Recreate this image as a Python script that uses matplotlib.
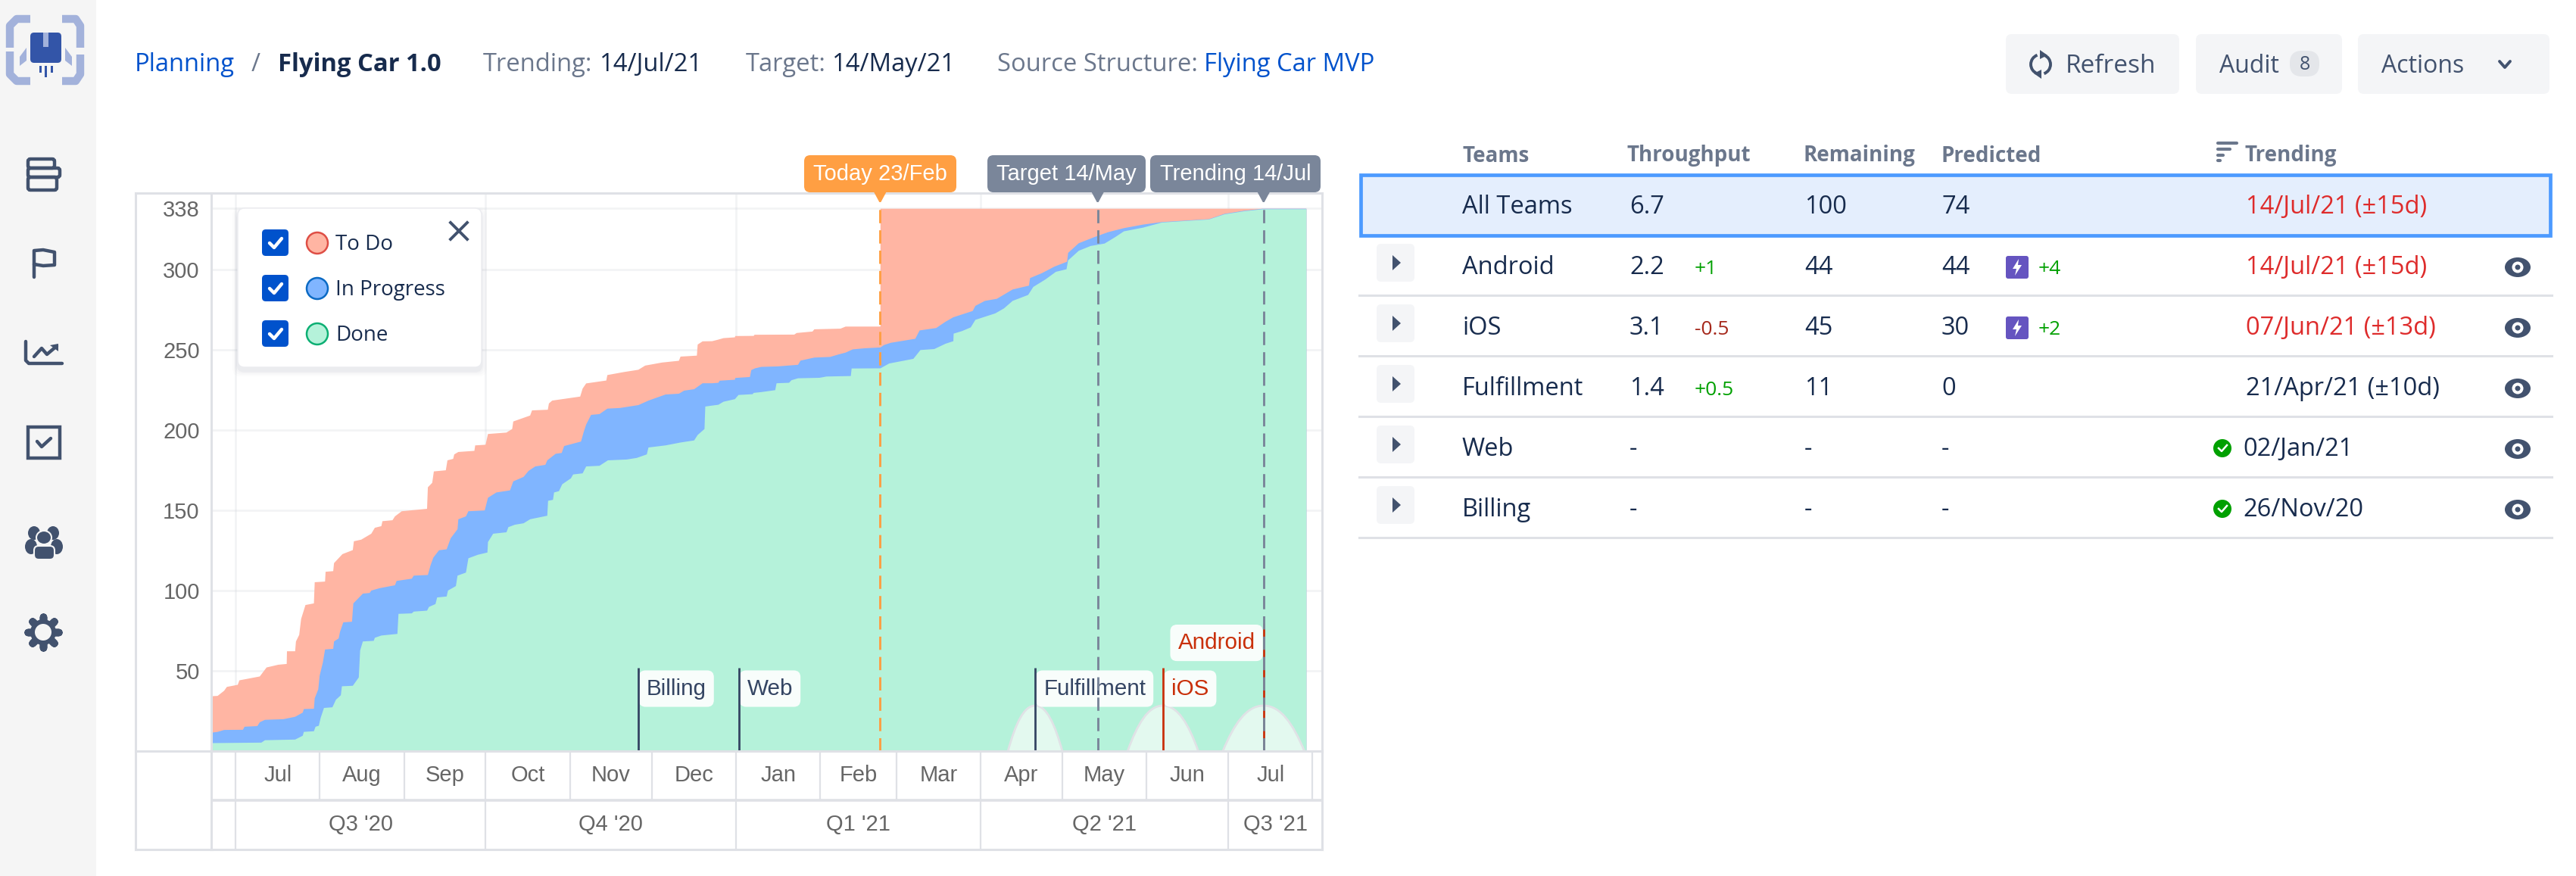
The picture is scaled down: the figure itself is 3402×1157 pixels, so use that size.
"""
Planning screen: cumulative flow of Flying Car 1.0 next to the team table.
Saves to out.png
"""
import matplotlib
matplotlib.use("Agg")
import matplotlib.pyplot as plt
import matplotlib.patches as mpatches
from matplotlib.path import Path

plt.rcParams["font.family"] = "Liberation Sans"

# ── data ──────────────────────────────────────────────────────────────────────
# days are counted from 1 Jul 2020, values are issues

todo_days = [-8.9, -6.7, -4.3, -3.3, 0.7, 1.3, 8.8, 11.3, 15.6, 18.7, 18.8, 21.8, 22.1, 23.3, 24, 25.6,
             28.7, 29, 32.8, 33, 35.8, 36.1, 39.2, 43, 43.4, 46.1, 49.8, 51.1, 53.5, 53.9, 57.6, 58.5,
             61, 70.3, 70.6, 72.2, 72.8, 77.2, 77.8, 79.9, 80.3, 81.8, 87.7, 88, 91.8, 92.7, 99.5,
             101.6, 102, 108.2, 108.9, 114.7, 115.1, 116.3, 126.6, 127.5, 128.8, 136.2, 136.6, 142.4,
             148, 150.5, 156.7, 162.9, 163.5, 169.5, 169.8, 171.6, 175.1, 177, 179.3, 183.5, 183.6,
             190.4, 190.7, 205.3, 206.2, 212, 212.7, 222.3, 224.2, 237, 237.01, 393.6]
todo_vals = [34.4, 34.6, 37.8, 40.2, 41.5, 44.3, 46.7, 52.3, 54, 54.5, 62.4, 62.4, 68.5, 72.6, 82.5, 91.2,
             92.2, 105.4, 105.8, 111.9, 112.3, 117.3, 122.9, 125.4, 130.9, 131.9, 135.6, 139.3, 140.3,
             143.4, 144, 146.4, 149.6, 151.1, 164.5, 167.3, 174.4, 175.1, 181.3, 182.2, 185, 186.5,
             187.2, 190.6, 191, 197.7, 198.6, 200.8, 205.5, 209.2, 212.4, 212.8, 216.7, 218.5, 221, 226,
             229.2, 231, 234.4, 236.2, 237.7, 240.3, 242.2, 243.3, 245.9, 246.5, 253.4, 255.4, 255.5,
             256.3, 257.4, 257.9, 258.7, 258.8, 259.5, 259.6, 260.6, 261.5, 262.9, 263.3, 264.6, 264.6,
             338, 338]

progress_days = [-8.9, -6.7, -4.3, 2.6, 3.2, 7.9, 8.8, 10.7, 17.5, 21.8, 24.6, 25, 28.7, 29, 30.3, 30.8,
                 32, 32.8, 35.8, 36.1, 37.8, 38.3, 39.5, 42.7, 43.2, 46.7, 49.2, 49.8, 52.9, 58.5, 59.1,
                 64.7, 65.4, 70.6, 71.6, 72.6, 74.7, 77.5, 79, 81.5, 81.8, 84.6, 85.5, 91.5, 92.7, 95.8,
                 100.8, 102, 105.8, 107.6, 110.1, 113.8, 114.5, 117.6, 119.8, 120.7, 126.9, 127.9, 128.8,
                 130.6, 133.7, 136.6, 141.2, 148, 151.7, 158, 162.9, 164.8, 168.5, 171.6, 175.1, 177.4,
                 177.9, 183.5, 183.6, 189, 189.5, 190.9, 193.2, 199.2, 206.7, 207.6, 212.7, 218.5, 221.7,
                 224.2, 226.8, 231.3, 237, 238.3, 240.8, 249.8, 251.4, 257.5, 260.9, 263.8, 270.9, 271.9,
                 275.4, 279.8, 285.6, 291.6, 292, 296.4, 300.9, 305.6, 306, 309.9, 315.6, 320.7, 326.5,
                 333.5, 340.5, 357.8, 363.5, 370.6, 377.6, 393.6]
progress_vals = [11.7, 12.2, 13.4, 13.5, 15.4, 15.8, 18.2, 19.7, 20.1, 21.6, 24.2, 26.4, 26.6, 33.1, 38.7,
                 47.1, 55.5, 63.5, 63.9, 68.5, 70.4, 74.5, 80.4, 80.8, 92.2, 98.3, 98.7, 100.2, 101.7,
                 103.5, 106.2, 107.6, 109.5, 109.9, 116, 120.7, 125.3, 125.9, 132.8, 138.4, 144.6, 146.4,
                 149.6, 150.1, 158, 161.3, 162.6, 168.2, 171, 174.7, 177.5, 178.5, 181.3, 185.4, 185.9,
                 190.2, 193, 199, 203.6, 209.6, 210.1, 213.5, 213.9, 215.7, 218.5, 222.3, 222.8, 224.7,
                 225.6, 229.3, 229.3, 229.6, 230.9, 231.5, 232.6, 233.2, 237.5, 238.6, 239.5, 239.8, 240.8,
                 243.4, 245.3, 245.7, 247.3, 248.4, 250.4, 251.1, 251.6, 253.1, 254.5, 257, 262.2, 263.7,
                 267.6, 270.4, 274.3, 277.5, 280.6, 281.9, 287.7, 290.1, 294.8, 297.9, 301.9, 305, 310.5,
                 316.5, 320.3, 323.4, 325.9, 328.1, 329.7, 331.5, 334.8, 336.7, 338, 338]

done_days = [-8.9, 9.4, 10.7, 21.8, 24.6, 25, 28.7, 29.3, 30.5, 31.2, 32.4, 35.5, 36.8, 38.6, 39, 43, 45.2,
             45.7, 46.7, 50.7, 51.1, 53.5, 59.4, 59.8, 64.7, 65.4, 70.3, 71, 73.4, 74, 77.5, 78, 80.9,
             81.5, 84.6, 85.5, 89, 92.5, 92.7, 94.6, 99.5, 100.2, 102.6, 105.8, 108.2, 114.5, 114.8, 116.6,
             117, 118.8, 120, 123.2, 124, 127.5, 128.8, 133.7, 136.8, 143.7, 147.4, 151.1, 151.7, 158,
             163.5, 168.5, 169.8, 172.3, 172.6, 175.1, 177.4, 179.3, 183.5, 184.8, 190, 190.4, 193.2,
             198.3, 198.8, 203.4, 204.3, 206.7, 214.6, 217.2, 226.1, 226.4, 237, 240.2, 249.1, 251.7,
             256.8, 260.9, 263.8, 263.9, 267, 270.2, 271.9, 279.2, 282.4, 285.6, 291.3, 293.2, 297.7,
             301.5, 305.4, 306, 309.9, 314.3, 319.4, 323.3, 326.5, 333.5, 340.5, 357.8, 363.5, 370.6,
             377.6, 393.6]
done_vals = [5.2, 5.5, 7, 7.4, 9.8, 12.2, 12.6, 15.4, 16, 21, 27.1, 27.5, 32.2, 35, 40.6, 40.9, 46.1, 62.9,
             68.5, 68.9, 70.8, 72.2, 73.2, 85.7, 86, 87.1, 87.7, 90, 91.8, 95.9, 96.5, 100.2, 103, 109.5,
             111.4, 120.3, 122.5, 123.9, 130.4, 135.6, 136.5, 139.7, 141.2, 142.1, 144.6, 146.8, 156.1,
             156.7, 161.3, 162.1, 166.4, 170.1, 172.5, 173.2, 177.5, 177.9, 181.3, 181.8, 182.8, 185,
             189.3, 190.6, 192.4, 193.7, 197.1, 200.8, 214.8, 215.4, 215.9, 217.8, 219.4, 222, 222.5,
             223.3, 223.8, 225, 229.3, 229.6, 231.2, 232.4, 232.7, 233.5, 233.8, 238.5, 238.6, 241.6,
             244.5, 250, 250.6, 253.9, 255.5, 260.2, 261.8, 264.1, 268.8, 272.8, 275.9, 280.6, 284.3,
             289.3, 294, 298.7, 300.3, 305.8, 311.8, 314.8, 316.3, 320.3, 323.9, 326.2, 329.4, 331.3,
             334.5, 336.4, 337.7, 337.7]

y_ticks = [50, 100, 150, 200, 250, 300, 338]
month_starts = [0, 31, 62, 92, 123, 153, 184, 215, 243, 274, 304, 335, 365, 396]
month_names = ["Jul", "Aug", "Sep", "Oct", "Nov", "Dec", "Jan", "Feb", "Mar", "Apr", "May", "Jun", "Jul"]
quarter_starts = [0, 92, 184, 274, 365]
quarter_names = ["Q3 '20", "Q4 '20", "Q1 '21", "Q2 '21", "Q3 '21"]

pin_names = ["Today 23/Feb", "Target 14/May", "Trending 14/Jul"]
pin_days = [237, 317, 378]

milestone_names = ["Billing", "Web", "Fulfillment", "iOS", "Android"]
milestone_days = [148, 185, 294, 341, 378]
milestone_spread = [0, 0, 10, 13, 15]  # confidence in days, ±

teams = ["Android", "iOS", "Fulfillment", "Web", "Billing"]
throughput = ["2.2", "3.1", "1.4", "-", "-"]
throughput_delta = ["+1", "-0.5", "+0.5", "", ""]
remaining = ["44", "45", "11", "-", "-"]
predicted = ["44", "30", "0", "-", "-"]
predicted_delta = ["+4", "+2", "", "", ""]
trending = ["14/Jul/21 (±15d)", "07/Jun/21 (±13d)", "21/Apr/21 (±10d)", "02/Jan/21", "26/Nov/20"]

# ── style ─────────────────────────────────────────────────────────────────────
UI_FONT = "Open Sans"
INK = "#172B4D"
MUTED = "#6B778C"
LINK = "#0052CC"
SLATE = "#42526E"
LINE = "#DFE1E6"
PANEL = "#F4F5F7"
RED = "#DE2B2B"
ALERT = "#C9300A"
GREEN = "#00A000"

W, H = 3402, 1157
X0, X1, Y_TOP, Y_BASE, Y_ROWS = 279, 1746, 255, 992, 1122  # chart frame in pixels

fig = plt.figure(figsize=(W / 100, H / 100), dpi=100, facecolor="white")

# ── chart ─────────────────────────────────────────────────────────────────────
ax = fig.add_axes([X0 / W, 1 - Y_BASE / H, (X1 - X0) / W, (Y_BASE - Y_TOP) / H], zorder=1)
ax.set_xlim(-8.9, 399.5)
ax.set_ylim(0, 347.5)

ax.fill_between(todo_days, todo_vals, color="#FFB5A3", lw=0, zorder=2)
ax.fill_between(progress_days, progress_vals, color="#80B5FF", lw=0, zorder=2.1)
ax.fill_between(done_days, done_vals, color="#B5F2DA", lw=0, zorder=2.2)

ax.set_yticks(y_ticks)
ax.set_xticks(quarter_starts)
ax.tick_params(length=0, labelbottom=False, labelsize=21, labelcolor="#666666", pad=11)
for label in ax.get_yticklabels():
    label.set_verticalalignment("center_baseline")
ax.grid(True, color="#C8CCD4", linewidth=2, alpha=0.22, zorder=3)
for side in ax.spines:
    ax.spines[side].set_color(LINE)
    ax.spines[side].set_linewidth(2.2)

# confidence bumps under the team markers
for day, spread in zip(milestone_days, milestone_spread):
    if spread == 0:
        continue
    bump = Path([(day - spread, 0), (day - 0.72 * spread, 17), (day - 0.42 * spread, 28.3), (day, 28.3),
                 (day + 0.42 * spread, 28.3), (day + 0.72 * spread, 17), (day + spread, 0)],
                [Path.MOVETO] + [Path.CURVE4] * 6)
    ax.add_patch(mpatches.PathPatch(bump, facecolor="#E3F9EF", edgecolor="#E0E2E6", lw=2, zorder=3.2))

# team markers, the late ones in red
for name, day in zip(milestone_names, milestone_days):
    colour = ALERT if name in ("iOS", "Android") else "#344563"
    top = 79.7 if name == "Android" else 51.9
    mid = 68.8 if name == "Android" else 40.3
    ax.vlines(day, 0, top, color=colour, lw=2, zorder=4)
    side = -1 if name == "Android" else 1
    ax.annotate(name, (day, mid), xytext=(side * 8, 0), textcoords="offset points",
                ha="right" if side < 0 else "left", va="center_baseline", fontsize=21.3, color=colour, zorder=3.5,
                bbox=dict(boxstyle="round,pad=0.34,rounding_size=0.3", fc="white", ec="none", alpha=0.92))

# today, target and trending
for day, colour in zip(pin_days, ["#FF9F43", "#7A869A", "#7A869A"]):
    ax.vlines(day, 0, 341.5, color=colour, lw=2.1, linestyle=(0, (6, 3.2)), zorder=5)

# month and quarter rows
rows = fig.add_axes([X0 / W, 1 - Y_ROWS / H, (X1 - X0) / W, (Y_ROWS - Y_BASE) / H], zorder=1)
rows.set_xlim(ax.get_xlim())
rows.set_ylim(2, 0)
rows.set_xticks([])
rows.set_yticks([])
for side in rows.spines:
    rows.spines[side].set_color(LINE)
    rows.spines[side].set_linewidth(2.2)
rows.hlines(1, -8.9, 399.5, color=LINE, lw=2.6)
rows.vlines(month_starts, 0, 1, color=LINE, lw=1.6)
rows.vlines(quarter_starts, 1, 2, color=LINE, lw=1.6)
for name, start, stop in zip(month_names, month_starts[:-1], month_starts[1:]):
    rows.text((start + stop) / 2, 0.5, name, ha="center", va="center", fontsize=21, color="#666666")
quarter_ends = quarter_starts[1:] + [399.5]
for name, start, stop in zip(quarter_names, quarter_starts, quarter_ends):
    rows.text((start + stop) / 2, 1.5, name, ha="center", va="center", fontsize=21, color="#666666")

# ── page chrome, in pixels ────────────────────────────────────────────────────
ui = fig.add_axes([0, 0, 1, 1], zorder=2)
ui.set_xlim(0, W)
ui.set_ylim(H, 0)
ui.axis("off")
ui.patch.set_alpha(0)

ui.add_patch(mpatches.Rectangle((0, 0), 127, H, fc="#F5F5F5", ec="none"))

# left frame of the chart
ui.plot([179, 179], [Y_TOP, Y_ROWS], color=LINE, lw=2.2)
for y in [Y_TOP, Y_BASE, Y_ROWS]:
    ui.plot([179, X0], [y, y], color=LINE, lw=2.2)

# logo
for xs, ys in [([40, 22, 13, 13], [25, 25, 34, 63]), ([13, 13, 22, 40], [68, 98, 107, 107]),
               ([82, 100, 106, 106], [25, 25, 34, 63]), ([106, 106, 100, 82], [72, 98, 107, 107])]:
    ui.plot(xs, ys, color="#A3B2DB", lw=7.5, solid_capstyle="butt", solid_joinstyle="round")
ui.add_patch(mpatches.FancyBboxPatch((40, 43), 41, 40, boxstyle="round,pad=0,rounding_size=5", fc="#3355A8", ec="none"))
ui.add_patch(mpatches.Rectangle((57, 43), 7, 19, fc="#A3B2DB", ec="none"))
ui.add_patch(mpatches.Polygon([(26, 75), (35, 63), (35, 80), (26, 87)], fc="#A3B2DB", ec="none"))
ui.add_patch(mpatches.Polygon([(86, 63), (95, 75), (95, 87), (86, 80)], fc="#A3B2DB", ec="none"))
for x, stop in [(51.5, 96), (59, 102), (66.5, 96)]:
    ui.add_patch(mpatches.Rectangle((x, 87), 3, stop - 87, fc="#3355A8", ec="none"))

# sidebar icons
for x, y, w, h in [(37, 210, 35, 12), (37, 222, 42, 12), (37, 234, 38, 17)]:
    ui.add_patch(mpatches.FancyBboxPatch((x, y), w, h, boxstyle="round,pad=0,rounding_size=3", fc="none", ec=SLATE, lw=3.2))
ui.plot([45, 45, 57, 72, 72, 57, 45], [366, 331, 330, 333, 350, 351, 349], color=SLATE, lw=3.2, solid_capstyle="round")
ui.plot([34, 34, 38, 82], [451, 476, 480, 480], color=SLATE, lw=3.2, solid_capstyle="round")
ui.plot([45, 55, 62, 75], [471, 460, 468, 457], color=SLATE, lw=3.2, solid_capstyle="round")
ui.add_patch(mpatches.Polygon([(66, 456), (77, 454), (77, 464)], fc=SLATE, ec="none"))
ui.add_patch(mpatches.Rectangle((37, 564), 42, 41, fc="none", ec=SLATE, lw=3.2))
ui.plot([49, 55, 67], [583, 590, 579], color=SLATE, lw=3.2, solid_capstyle="round")
for x, y, rx, ry in [(45, 704, 8, 9), (70, 704, 8, 9), (41, 722, 8, 10), (75, 722, 8, 10)]:
    ui.add_patch(mpatches.Ellipse((x, y), 2 * rx, 2 * ry, fc=SLATE, ec="none"))
ui.add_patch(mpatches.Ellipse((58, 710), 20, 18, fc=SLATE, ec="#F5F5F5", lw=1.5))
ui.add_patch(mpatches.FancyBboxPatch((45, 721), 27, 18, boxstyle="round,pad=0,rounding_size=6", fc=SLATE, ec="#F5F5F5", lw=1.5))
ui.scatter([57], [835], marker=(8, 2, 0), s=850, color=SLATE, linewidths=7, zorder=1)
ui.add_patch(mpatches.Circle((57, 835), 17, fc=SLATE, ec="none", zorder=2))
ui.add_patch(mpatches.Circle((57, 835), 11, fc="#F5F5F5", ec="none", zorder=3))

# header line
for x, text, colour, weight in [(178, "Planning", LINK, "normal"), (332, "/", MUTED, "normal"),
                                (367, "Flying Car 1.0", INK, "bold"), (638, "Trending:", MUTED, "normal"),
                                (792, "14/Jul/21", INK, "normal"), (985, "Target:", MUTED, "normal"),
                                (1099, "14/May/21", INK, "normal"), (1317, "Source Structure:", MUTED, "normal"),
                                (1590, "Flying Car MVP", LINK, "normal")]:
    ui.text(x, 86, text, family=UI_FONT, fontsize=23.6, color=colour, fontweight=weight, ha="left", va="center")

# buttons
for x0, x1 in [(2649, 2878), (2900, 3093), (3114, 3367)]:
    ui.add_patch(mpatches.FancyBboxPatch((x0, 45), x1 - x0, 79, boxstyle="round,pad=0,rounding_size=8", fc=PANEL, ec="none"))
ui.text(2728, 87, "Refresh", family=UI_FONT, fontsize=24, color=SLATE, va="center")
ui.text(2931, 87, "Audit", family=UI_FONT, fontsize=23, color=SLATE, va="center")
ui.text(3145, 87, "Actions", family=UI_FONT, fontsize=23, color=SLATE, va="center")
ui.add_patch(mpatches.Arc((2695, 85), 26, 26, theta1=110, theta2=250, color=SLATE, lw=2.8))
ui.add_patch(mpatches.Arc((2695, 85), 26, 26, theta1=290, theta2=70, color=SLATE, lw=2.8))
ui.add_patch(mpatches.Polygon([(2694, 66), (2704, 73), (2694, 78)], fc=SLATE, ec="none"))
ui.add_patch(mpatches.Polygon([(2696, 92), (2686, 97), (2696, 104)], fc=SLATE, ec="none"))
ui.add_patch(mpatches.FancyBboxPatch((3024, 67), 39, 34, boxstyle="round,pad=0,rounding_size=16", fc="#E4E6EA", ec="none"))
ui.text(3043.5, 86, "8", family=UI_FONT, fontsize=18, color=SLATE, ha="center", va="center")
ui.plot([3301, 3308, 3315], [81, 89, 81], color=SLATE, lw=2.8, solid_capstyle="round")

# pins over the chart
for name, day, x0, x1, colour in zip(pin_names, pin_days, [1062, 1304, 1519], [1263, 1513, 1744],
                                     ["#FF9F43", "#7A869A", "#7A869A"]):
    cx = 311 + day * 3.592
    ui.add_patch(mpatches.FancyBboxPatch((x0, 205), x1 - x0, 49, boxstyle="round,pad=0,rounding_size=8", fc=colour, ec="none"))
    ui.add_patch(mpatches.Polygon([(cx - 8, 254), (cx + 8, 254), (cx + 1, 267), (cx - 1, 267)], fc=colour, ec="none"))
    ui.text((x0 + x1) / 2, 230, name, fontsize=21, color="white", ha="center", va="center")

# legend card
for grow, alpha in [(14, 0.012), (10, 0.015), (6, 0.02), (3, 0.03)]:
    ui.add_patch(mpatches.FancyBboxPatch((314 - grow / 2, 280 - grow / 2), 322 + grow, 210 + grow,
                                         boxstyle="round,pad=0,rounding_size=10", fc="#091E42", ec="none", alpha=alpha))
ui.add_patch(mpatches.FancyBboxPatch((314, 275), 322, 210, boxstyle="round,pad=0,rounding_size=9", fc="white", ec="#EBECF0", lw=1))
for y, text, fill, edge in [(321, "To Do", "#FFB5A3", "#DE4E45"), (381, "In Progress", "#80B5FF", "#0B6AC4"),
                            (441, "Done", "#B5F2DA", "#0CAF73")]:
    ui.add_patch(mpatches.FancyBboxPatch((346, y - 18), 35, 35, boxstyle="round,pad=0,rounding_size=5", fc=LINK, ec="none"))
    ui.plot([356, 362, 372], [y, y + 6, y - 6], color="white", lw=3.2, solid_capstyle="round", solid_joinstyle="round")
    ui.add_patch(mpatches.Circle((419, y), 14, fc=fill, ec=edge, lw=1.8))
    ui.text(443, y + 2, text, family=UI_FONT, fontsize=20, color=INK, va="center")
ui.plot([595, 617], [294, 316], color=SLATE, lw=2.8)
ui.plot([595, 617], [316, 294], color=SLATE, lw=2.8)

# ── table ─────────────────────────────────────────────────────────────────────
for x, text in [(1931, "Teams"), (2148, "Throughput"), (2381, "Remaining"), (2563, "Predicted"), (2964, "Trending")]:
    ui.text(x, 206, text, family=UI_FONT, fontsize=20, fontweight="bold", color=MUTED, va="center")
for y, x1 in [(189, 2954), (197, 2945), (205, 2936), (212, 2932)]:
    ui.plot([2929, x1], [y, y], color=MUTED, lw=3, solid_capstyle="round")

ui.add_patch(mpatches.Rectangle((1797, 231), 1571, 80, fc="#E4EEFD", ec="#4C9AFF", lw=3.4))
ui.text(1931, 274, "All Teams", family=UI_FONT, fontsize=23.5, fontweight="medium", color=INK, va="center")
ui.text(2152, 274, "6.7", family=UI_FONT, fontsize=23.5, fontweight="medium", color=INK, va="center")
ui.text(2383, 274, "100", family=UI_FONT, fontsize=23.5, fontweight="medium", color=INK, va="center")
ui.text(2564, 274, "74", family=UI_FONT, fontsize=23.5, fontweight="medium", color=INK, va="center")
ui.text(2966, 274, "14/Jul/21 (±15d)", family=UI_FONT, fontsize=23.5, fontweight="medium", color=RED, va="center")

for i, team in enumerate(teams):
    y = 352 + 80 * i
    ui.plot([1795, 3370], [y + 38, y + 38], color=LINE, lw=2.2)
    ui.add_patch(mpatches.FancyBboxPatch((1818, y - 30), 50, 50, boxstyle="round,pad=0,rounding_size=6", fc=PANEL, ec="none"))
    ui.add_patch(mpatches.Polygon([(1839, y - 15), (1850, y - 5), (1839, y + 5)], fc=SLATE, ec="none"))
    ui.text(1931, y + 2, team, family=UI_FONT, fontsize=23.5, color=INK, va="center")
    ui.text(2152, y + 2, throughput[i], family=UI_FONT, fontsize=23.5, color=INK, va="center")
    ui.text(2383, y + 2, remaining[i], family=UI_FONT, fontsize=23.5, color=INK, va="center")
    ui.text(2564, y + 2, predicted[i], family=UI_FONT, fontsize=23.5, color=INK, va="center")
    delta = throughput_delta[i]
    ui.text(2238, y + 3, delta, family=UI_FONT, fontsize=19, color="#A5281B" if delta.startswith("-") else GREEN, va="center")
    if predicted_delta[i]:
        ui.add_patch(mpatches.FancyBboxPatch((2649, y - 14), 30, 30, boxstyle="round,pad=0,rounding_size=3", fc="#6554C0", ec="none"))
        ui.add_patch(mpatches.Polygon([(2666, y - 10), (2658, y + 3), (2663, y + 3), (2661, y + 12), (2670, y - 2), (2665, y - 2)],
                                      fc="white", ec="none"))
        ui.text(2692, y + 3, predicted_delta[i], family=UI_FONT, fontsize=19, color=GREEN, va="center")
    if i < 3:
        ui.text(2966, y + 2, trending[i], family=UI_FONT, fontsize=23.5, color=RED if i < 2 else INK, va="center")
    else:
        ui.add_patch(mpatches.Circle((2935, y), 12, fc=GREEN, ec="none"))
        ui.plot([2930, 2934, 2941], [y, y + 4, y - 4], color="white", lw=1.8)
        ui.text(2962, y + 2, trending[i], family=UI_FONT, fontsize=23.5, color=INK, va="center")
    ui.add_patch(mpatches.Ellipse((3325, y + 1), 34, 26, fc=SLATE, ec="none"))
    ui.add_patch(mpatches.Circle((3325, y + 1), 7.5, fc="white", ec="none"))
    ui.add_patch(mpatches.Circle((3325, y + 1), 3.5, fc=SLATE, ec="none"))

fig.savefig("out.png", dpi=100)
print("Saved -> out.png")
